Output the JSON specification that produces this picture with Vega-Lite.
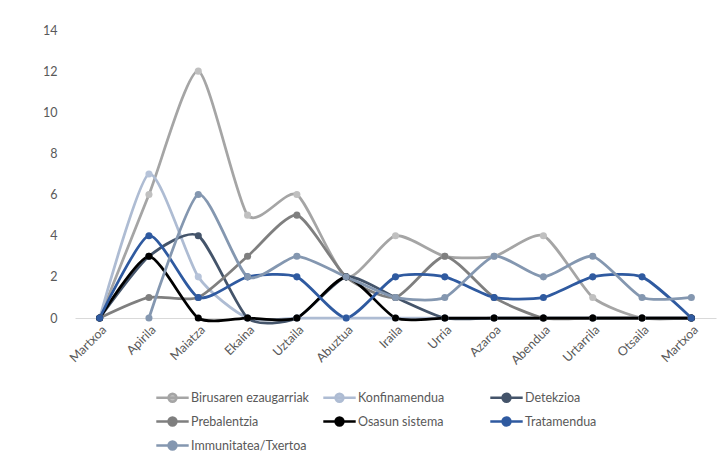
{
  "$schema": "https://vega.github.io/schema/vega-lite/v6.json",
  "autosize": "none",
  "width": 641,
  "height": 288,
  "padding": {"left": 75, "top": 30, "right": 9, "bottom": 135},
  "background": "#ffffff",
  "config": {
    "view": {"stroke": null},
    "font": "Lato",
    "axis": {"labelColor": "#595959", "labelFont": "Lato", "labelFontSize": 12.5, "ticks": false, "grid": false, "title": null}
  },
  "data": {"values": [
    {"i":0,"s":"Birusaren ezaugarriak","v":0},{"i":1,"s":"Birusaren ezaugarriak","v":6},{"i":2,"s":"Birusaren ezaugarriak","v":12},{"i":3,"s":"Birusaren ezaugarriak","v":5},{"i":4,"s":"Birusaren ezaugarriak","v":6},{"i":5,"s":"Birusaren ezaugarriak","v":2},{"i":6,"s":"Birusaren ezaugarriak","v":4},{"i":7,"s":"Birusaren ezaugarriak","v":3},{"i":8,"s":"Birusaren ezaugarriak","v":3},{"i":9,"s":"Birusaren ezaugarriak","v":4},{"i":10,"s":"Birusaren ezaugarriak","v":1},{"i":11,"s":"Birusaren ezaugarriak","v":0},{"i":12,"s":"Birusaren ezaugarriak","v":0},
    {"i":0,"s":"Konfinamendua","v":0},{"i":1,"s":"Konfinamendua","v":7},{"i":2,"s":"Konfinamendua","v":2},{"i":3,"s":"Konfinamendua","v":0},{"i":4,"s":"Konfinamendua","v":0},{"i":5,"s":"Konfinamendua","v":0},{"i":6,"s":"Konfinamendua","v":0},{"i":7,"s":"Konfinamendua","v":0},{"i":8,"s":"Konfinamendua","v":0},{"i":9,"s":"Konfinamendua","v":0},{"i":10,"s":"Konfinamendua","v":0},{"i":11,"s":"Konfinamendua","v":0},{"i":12,"s":"Konfinamendua","v":0},
    {"i":0,"s":"Detekzioa","v":0},{"i":1,"s":"Detekzioa","v":3},{"i":2,"s":"Detekzioa","v":4},{"i":3,"s":"Detekzioa","v":0},{"i":4,"s":"Detekzioa","v":0},{"i":5,"s":"Detekzioa","v":2},{"i":6,"s":"Detekzioa","v":1},{"i":7,"s":"Detekzioa","v":0},{"i":8,"s":"Detekzioa","v":0},{"i":9,"s":"Detekzioa","v":0},{"i":10,"s":"Detekzioa","v":0},{"i":11,"s":"Detekzioa","v":0},{"i":12,"s":"Detekzioa","v":0},
    {"i":0,"s":"Prebalentzia","v":0},{"i":1,"s":"Prebalentzia","v":1},{"i":2,"s":"Prebalentzia","v":1},{"i":3,"s":"Prebalentzia","v":3},{"i":4,"s":"Prebalentzia","v":5},{"i":5,"s":"Prebalentzia","v":2},{"i":6,"s":"Prebalentzia","v":1},{"i":7,"s":"Prebalentzia","v":3},{"i":8,"s":"Prebalentzia","v":1},{"i":9,"s":"Prebalentzia","v":0},{"i":10,"s":"Prebalentzia","v":0},{"i":11,"s":"Prebalentzia","v":0},{"i":12,"s":"Prebalentzia","v":0},
    {"i":0,"s":"Osasun sistema","v":0},{"i":1,"s":"Osasun sistema","v":3},{"i":2,"s":"Osasun sistema","v":0},{"i":3,"s":"Osasun sistema","v":0},{"i":4,"s":"Osasun sistema","v":0},{"i":5,"s":"Osasun sistema","v":2},{"i":6,"s":"Osasun sistema","v":0},{"i":7,"s":"Osasun sistema","v":0},{"i":8,"s":"Osasun sistema","v":0},{"i":9,"s":"Osasun sistema","v":0},{"i":10,"s":"Osasun sistema","v":0},{"i":11,"s":"Osasun sistema","v":0},{"i":12,"s":"Osasun sistema","v":0},
    {"i":0,"s":"Tratamendua","v":0},{"i":1,"s":"Tratamendua","v":4},{"i":2,"s":"Tratamendua","v":1},{"i":3,"s":"Tratamendua","v":2},{"i":4,"s":"Tratamendua","v":2},{"i":5,"s":"Tratamendua","v":0},{"i":6,"s":"Tratamendua","v":2},{"i":7,"s":"Tratamendua","v":2},{"i":8,"s":"Tratamendua","v":1},{"i":9,"s":"Tratamendua","v":1},{"i":10,"s":"Tratamendua","v":2},{"i":11,"s":"Tratamendua","v":2},{"i":12,"s":"Tratamendua","v":0},
    {"i":1,"s":"Immunitatea/Txertoa","v":0},{"i":2,"s":"Immunitatea/Txertoa","v":6},{"i":3,"s":"Immunitatea/Txertoa","v":2},{"i":4,"s":"Immunitatea/Txertoa","v":3},{"i":5,"s":"Immunitatea/Txertoa","v":2},{"i":6,"s":"Immunitatea/Txertoa","v":1},{"i":7,"s":"Immunitatea/Txertoa","v":1},{"i":8,"s":"Immunitatea/Txertoa","v":3},{"i":9,"s":"Immunitatea/Txertoa","v":2},{"i":10,"s":"Immunitatea/Txertoa","v":3},{"i":11,"s":"Immunitatea/Txertoa","v":1},{"i":12,"s":"Immunitatea/Txertoa","v":1}
  ]},
  "encoding": {
    "x": {
      "field": "i", "type": "ordinal",
      "scale": {"type": "point", "padding": 0.5, "domain": [0,1,2,3,4,5,6,7,8,9,10,11,12]},
      "axis": {
        "labelAngle": -45, "labelPadding": 5, "domainColor": "#d9d9d9", "domainWidth": 1,
        "labelExpr": "['Martxoa','Apirila','Maiatza','Ekaina','Uztaila','Abuztua','Iraila','Urria','Azaroa','Abendua','Urtarrila','Otsaila','Martxoa'][datum.value]"
      }
    },
    "y": {
      "field": "v", "type": "quantitative",
      "scale": {"domain": [0, 14], "nice": false},
      "axis": {"values": [0,2,4,6,8,10,12,14], "domain": false, "labelPadding": 18}
    }
  },
  "layer": [
    {
      "mark": {"type": "line", "interpolate": "cardinal", "tension": 0.35, "strokeWidth": 2.75},
      "encoding": {
        "color": {
          "field": "s", "type": "nominal",
          "scale": {
            "domain": ["Birusaren ezaugarriak","Konfinamendua","Detekzioa","Prebalentzia","Osasun sistema","Tratamendua","Immunitatea/Txertoa"],
            "range": ["#A5A5A5","#AEBCD3","#44546A","#7F7F7F","#000000","#2F5AA0","#8497B0"]
          },
          "legend": {
            "title": null, "orient": "none", "direction": "horizontal", "legendX": 84, "legendY": 354,
            "columns": 3, "gridAlign": "all", "columnPadding": 9, "rowPadding": 1, "padding": 0,
            "symbolType": "M-1.35,0H1.35M-0.33,0A0.33,0.33,0,1,1,0.33,0A0.33,0.33,0,1,1,-0.33,0Z",
            "symbolSize": 576, "symbolStrokeWidth": 2.5, "labelOffset": 5,
            "labelFont": "Lato", "labelFontSize": 12.5, "labelColor": "#595959", "labelLimit": 200,
            "encode": {"symbols": {"update": {"fill": {"scale": "color", "field": "value"}}}}
          }
        }
      }
    },
    {
      "mark": {"type": "point", "filled": true, "size": 50, "opacity": 1},
      "encoding": {
        "fill": {
          "field": "s", "type": "nominal",
          "scale": {
            "domain": ["Birusaren ezaugarriak","Konfinamendua","Detekzioa","Prebalentzia","Osasun sistema","Tratamendua","Immunitatea/Txertoa"],
            "range": ["#C0C0C0","#B6C3D9","#44546A","#7F7F7F","#000000","#2F5AA0","#8497B0"]
          },
          "legend": null
        }
      }
    }
  ]
}
